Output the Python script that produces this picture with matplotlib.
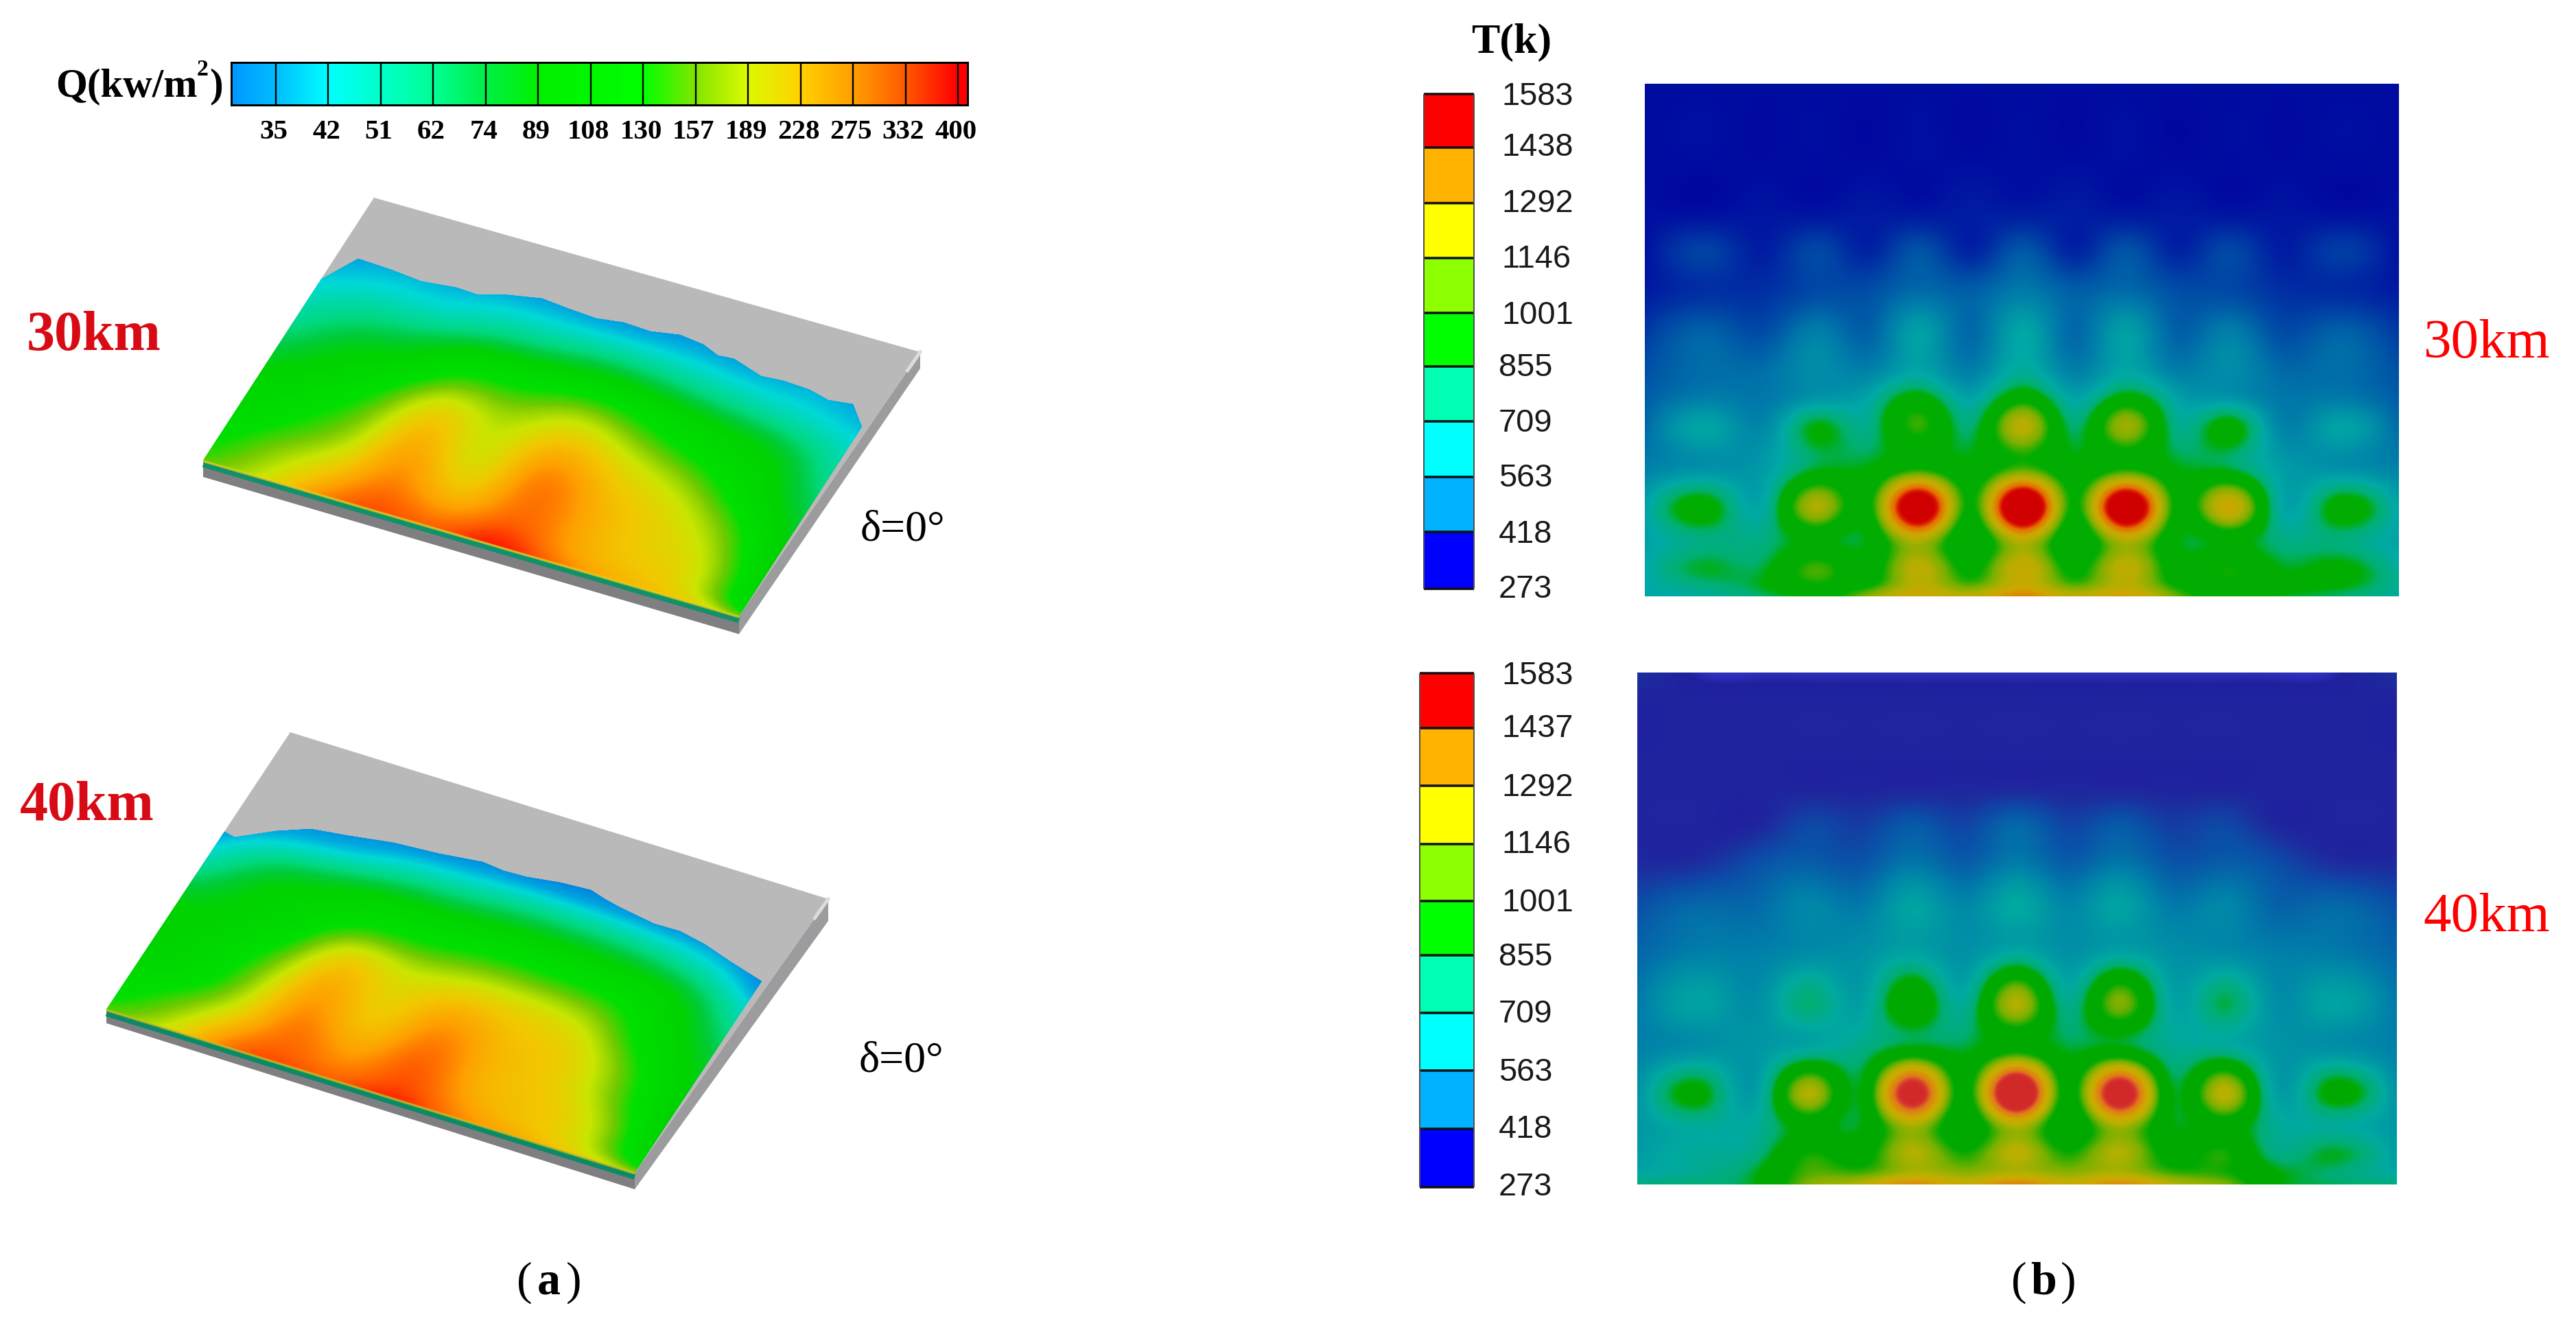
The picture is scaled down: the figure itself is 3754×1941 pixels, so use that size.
import numpy as np
import matplotlib
matplotlib.use("Agg")
import matplotlib.pyplot as plt
from matplotlib.colors import LinearSegmentedColormap, ListedColormap, to_rgb
from matplotlib.patches import Polygon, Rectangle

W, H = 3754, 1941
SERIF = "Liberation Serif"
SANS = "Liberation Sans"

# ---- data: heat flux legend
Q_TICKS = [35, 42, 51, 62, 74, 89, 108, 130, 157, 189, 228, 275, 332, 400]
Q_STOPS = [29, 35, 42, 51, 62, 74, 89, 108, 130, 157, 189, 228, 275, 332, 400]
Q_COLORS = ["#0096ff", "#00beff", "#00ffff", "#00ffc8", "#00ff96", "#00f046", "#00f000", "#00f800",
            "#00ff00", "#82e600", "#dcfa00", "#ffd200", "#ffa000", "#ff5a00", "#ff0000"]
# the shaded plate shows the same ramp a little dimmer at its cool end
Q_SHADE = [.88, .88, .85, .85, .85, .85, .88, .88, .88, .88, .92, .95, 1, 1, 1]

# ---- data: temperature legends
T_LABELS_30 = [1583, 1438, 1292, 1146, 1001, 855, 709, 563, 418, 273]
T_LABELS_40 = [1583, 1437, 1292, 1146, 1001, 855, 709, 563, 418, 273]
T_BAND_COLORS = ["#0000ff", "#00b2ff", "#00ffff", "#00ffb2", "#00ff00",
                 "#8cff00", "#ffff00", "#ffb200", "#ff0000"]

# ---- data: heat flux on the plates, rows along V_ROWS, columns along U_COLS
U_COLS = [0, .12, .22, .32, .43, .54, .66, .78, .9, 1]
V_ROWS = [0, .03, .1, .2, .3, .4, .5, .6, .7, .8, .9]
Q_30KM = [
    [150, 200, 290, 340, 330, 380, 310, 250, 220, 160],
    [140, 190, 270, 330, 310, 360, 290, 240, 200, 120],
    [125, 170, 230, 300, 260, 320, 270, 225, 185, 100],
    [105, 140, 190, 270, 215, 300, 260, 215, 165, 90],
    [95, 120, 165, 240, 195, 275, 235, 195, 135, 82],
    [80, 100, 135, 200, 180, 225, 195, 155, 105, 72],
    [62, 84, 100, 140, 145, 170, 145, 115, 90, 60],
    [50, 64, 72, 92, 100, 110, 100, 85, 70, 50],
    [40, 46, 47, 55, 60, 65, 60, 52, 46, 40],
    [33, 36, 36, 38, 38, 38, 38, 36, 36, 33],
    [29, 29, 29, 29, 29, 29, 29, 29, 29, 29],
]
Q_40KM = [
    [150, 200, 300, 345, 330, 370, 300, 260, 210, 170],
    [135, 185, 280, 330, 310, 350, 285, 240, 190, 120],
    [115, 155, 230, 310, 275, 330, 260, 230, 175, 95],
    [95, 120, 190, 280, 235, 300, 250, 220, 150, 88],
    [90, 108, 160, 250, 215, 260, 235, 210, 135, 85],
    [85, 95, 125, 195, 185, 200, 200, 175, 110, 78],
    [60, 88, 100, 125, 130, 140, 140, 130, 95, 62],
    [40, 64, 76, 88, 90, 95, 95, 90, 72, 44],
    [29, 36, 40, 48, 52, 56, 56, 52, 42, 30],
    [29, 29, 29, 29, 30, 30, 30, 29, 29, 29],
    [29, 29, 29, 29, 29, 29, 29, 29, 29, 29],
]
EDGE_U_30 = [0, .038, .1, .16, .221, .26, .3, .367, .42, .472, .52, .57, .62, .667, .70, .73, .789, .83, .88, .92, .962, .988, 1.0]
EDGE_V_30 = [.69, .79, .785, .775, .79, .785, .81, .833, .825, .82, .832, .83, .845, .837, .815, .82, .789, .795, .79, .775, .785, .74, .72]
EDGE_U_40 = [0, .022, .08, .133, .2, .277, .36, .4375, .48, .523, .58, .636, .67, .70, .771, .82, .872, .93, .987, 1.0]
EDGE_V_40 = [.64, .635, .69, .73, .745, .765, .775, .789, .782, .785, .80, .806, .79, .78, .764, .765, .749, .72, .696, .69]

# ---- data: temperature fields, read at the spot rows / columns
T_X_30 = [355, 443, 511, 580, 646, 712, 780, 848, 914, 980, 1048, 1115, 1182, 1250, 1337]
T_Y_30 = [212, 420, 560, 635, 730, 840, 960, 1010, 1080, 1190, 1290, 1375, 1440, 1490, 1513]
T_30KM = [
    [300, 300, 300, 300, 300, 300, 300, 300, 300, 300, 300, 300, 300, 300, 300],
    [300, 300, 300, 300, 300, 305, 305, 305, 305, 305, 300, 300, 300, 300, 300],
    [310, 330, 325, 340, 335, 350, 340, 360, 340, 350, 335, 340, 325, 330, 310],
    [310, 420, 340, 440, 350, 470, 350, 480, 350, 470, 350, 440, 340, 410, 310],
    [330, 380, 380, 440, 450, 520, 490, 560, 490, 520, 450, 440, 380, 370, 330],
    [400, 500, 450, 580, 500, 680, 520, 700, 520, 680, 500, 580, 450, 500, 400],
    [470, 540, 550, 620, 620, 730, 610, 770, 610, 730, 610, 620, 540, 540, 470],
    [490, 580, 560, 650, 700, 900, 690, 950, 690, 900, 690, 650, 560, 570, 490],
    [520, 690, 610, 860, 760, 1050, 790, 1230, 790, 1170, 760, 900, 600, 680, 520],
    [590, 640, 670, 840, 860, 1000, 890, 1060, 890, 1000, 860, 830, 680, 640, 590],
    [680, 880, 720, 1200, 960, 1780, 980, 1860, 980, 1810, 960, 1290, 720, 880, 680],
    [680, 770, 780, 880, 860, 1180, 860, 1200, 860, 1180, 860, 880, 780, 780, 680],
    [700, 840, 830, 1060, 920, 1230, 960, 1270, 960, 1240, 920, 1010, 850, 880, 720],
    [700, 780, 850, 980, 1000, 1230, 1090, 1280, 1090, 1230, 1000, 960, 880, 860, 740],
    [700, 730, 800, 900, 1150, 1300, 1260, 1400, 1260, 1340, 1100, 900, 840, 800, 720],
]
T_X_40 = [345, 435, 502, 570, 637, 705, 772, 840, 906, 972, 1041, 1110, 1175, 1240, 1335]
T_Y_40 = [62, 100, 250, 330, 410, 480, 600, 700, 830, 920, 1030, 1100, 1165, 1215, 1232]
T_40KM = [
    [340, 273, 273, 273, 273, 273, 273, 273, 273, 273, 273, 273, 273, 273, 340],
    [310, 290, 290, 290, 290, 290, 290, 290, 290, 290, 290, 290, 290, 290, 310],
    [297, 297, 297, 297, 297, 297, 297, 297, 297, 297, 297, 297, 297, 297, 297],
    [300, 300, 300, 305, 305, 310, 310, 320, 310, 310, 305, 305, 300, 300, 300],
    [300, 300, 305, 400, 370, 450, 390, 490, 390, 450, 370, 400, 310, 300, 300],
    [310, 320, 400, 440, 420, 510, 440, 530, 440, 510, 420, 440, 400, 320, 310],
    [420, 500, 500, 590, 550, 690, 590, 710, 590, 690, 550, 590, 480, 500, 420],
    [480, 560, 560, 600, 620, 680, 620, 700, 620, 680, 620, 600, 560, 550, 480],
    [540, 680, 620, 790, 680, 960, 740, 1190, 760, 1110, 700, 820, 620, 680, 540],
    [560, 620, 640, 700, 760, 860, 830, 940, 830, 860, 740, 730, 640, 620, 560],
    [620, 860, 680, 1200, 860, 1660, 940, 1810, 940, 1700, 860, 1220, 690, 860, 620],
    [640, 720, 730, 900, 850, 1160, 880, 1180, 880, 1160, 860, 930, 740, 720, 640],
    [660, 730, 780, 1020, 950, 1200, 1020, 1220, 1020, 1200, 950, 1030, 780, 840, 660],
    [720, 760, 860, 1080, 1100, 1230, 1170, 1240, 1170, 1230, 1100, 1040, 880, 800, 720],
    [780, 800, 860, 1130, 1230, 1420, 1270, 1450, 1270, 1420, 1230, 1130, 880, 820, 780],
]

# ---- field colour ramps (temperature -> displayed colour)
T_STOPS = [273, 420, 560, 709, 800, 855, 1001, 1100, 1200, 1292, 1438, 1530, 1583]
T_FIELD_COLORS_30 = ["#0000a0", "#0040a5", "#0078aa", "#00aaa5", "#00b070", "#00ad00", "#00ad00",
                     "#78b000", "#b4ae00", "#cda800", "#e66e00", "#d81400", "#d20000"]
T_STOPS_40 = [273, 284, 320, 420, 560, 709, 800, 855, 1001, 1100, 1200, 1292, 1438, 1530, 1583]
T_FIELD_COLORS_40 = ["#2e30bc", "#20209e", "#1e2a9e", "#0a50a8", "#0080aa", "#00aaa0", "#00ae70", "#00aa00",
                     "#00aa00", "#78b000", "#b8b000", "#d0a800", "#e07a18", "#d63030", "#d22828"]


def ramp(stops, colors):
    s = np.array(stops, float)
    pos = (s - s[0]) / (s[-1] - s[0])
    return LinearSegmentedColormap.from_list("r", list(zip(pos, colors)), N=1024)


def spline(xs, table, fx):
    """Natural cubic spline through the rows of `table` (n_x by k), evaluated at fx."""
    xs = np.asarray(xs, float)
    table = np.asarray(table, float)
    n = len(xs)
    h = np.diff(xs)
    A = np.zeros((n, n))
    b = np.zeros_like(table)
    A[0, 0] = A[-1, -1] = 1
    for i in range(1, n - 1):
        A[i, i - 1], A[i, i], A[i, i + 1] = h[i - 1], 2 * (h[i - 1] + h[i]), h[i]
        b[i] = 6 * ((table[i + 1] - table[i]) / h[i] - (table[i] - table[i - 1]) / h[i - 1])
    M = np.linalg.solve(A, b)
    j = np.clip(np.searchsorted(xs, fx) - 1, 0, n - 2)
    hj = h[j][:, None]
    a0 = ((xs[j + 1] - fx)[:, None]) / hj
    a1 = ((fx - xs[j])[:, None]) / hj
    return (a0 * table[j] + a1 * table[j + 1]
            + ((a0 ** 3 - a0) * M[j] + (a1 ** 3 - a1) * M[j + 1]) * hj ** 2 / 6)


def upsampled(values, xs, ys, nx, ny, sigma):
    """Fine image of a coarse table read at xs / ys, softened with a gaussian."""
    fx = np.linspace(xs[0], xs[-1], nx)
    fy = np.linspace(ys[0], ys[-1], ny)
    a = spline(ys, values, fy)            # ny by len(xs)
    a = spline(xs, a.T, fx).T             # ny by nx
    r = int(3 * sigma)
    k = np.exp(-0.5 * (np.arange(-r, r + 1) / sigma) ** 2)
    k /= k.sum()
    a = np.pad(a, r, mode="edge")
    a = np.apply_along_axis(lambda m: np.convolve(m, k, mode="same"), 0, a)
    a = np.apply_along_axis(lambda m: np.convolve(m, k, mode="same"), 1, a)
    return a[r:-r, r:-r]


fig = plt.figure(figsize=(W / 100, H / 100), dpi=100, facecolor="white")
ax = fig.add_axes([0, 0, 1, 1])
ax.set_xlim(0, W)
ax.set_ylim(H, 0)
ax.axis("off")
PX = 72 / 100  # points per pixel


def txt(x, y, s, size_px, family=SERIF, color="black", weight="normal", ha="center", va="center"):
    return ax.text(x, y, s, fontsize=size_px * PX, family=family, color=color,
                   fontweight=weight, ha=ha, va=va)


# ---- (a) heat flux legend
log_stops = np.log10(Q_STOPS)
q_cmap = ramp(log_stops, Q_COLORS)
q_plate_cmap = ramp(log_stops, [tuple(f * c for c in to_rgb(h)) for f, h in zip(Q_SHADE, Q_COLORS)])
BAR_X0, BAR_X1, BAR_Y0, BAR_Y1 = 337, 1410, 91, 153
TICK_X0, TICK_X1 = 402, 1396
tick_x = np.linspace(TICK_X0, TICK_X1, len(Q_TICKS))
strip = np.interp(np.linspace(BAR_X0, BAR_X1, 1073), np.r_[BAR_X0, tick_x], log_stops)
ax.imshow(strip[None, :], extent=(BAR_X0, BAR_X1, BAR_Y1, BAR_Y0), cmap=q_cmap,
          vmin=log_stops[0], vmax=log_stops[-1], aspect="auto", zorder=2)
ax.add_patch(Rectangle((BAR_X0, BAR_Y0), BAR_X1 - BAR_X0, BAR_Y1 - BAR_Y0, fill=False, ec="black", lw=3 * PX, zorder=3))
ax.vlines(tick_x, BAR_Y0, BAR_Y1, color="black", lw=2.4 * PX, zorder=3)
for x, q in zip(tick_x, Q_TICKS):
    txt(x - 3, 192, str(q), 41, weight="bold")
txt(81, 126, "Q(kw/m", 59, weight="bold", ha="left")
txt(295, 102, "2", 34, weight="bold")
txt(315, 126, ")", 59, weight="bold")


# ---- (a) plates
def plate(D, C, A, B, thick_l, thick_r, wedge, table, edge_u, edge_v, strip_col, rim_col):
    D, C, A, B = map(np.array, (D, C, A, B))
    Dp, Cp, Bp = D + (0, thick_l), C + (0, thick_r), B + (0, wedge)
    ax.add_patch(Polygon([D, C, Cp, Dp], fc="#7f7f82", ec="none", zorder=2))
    ax.add_patch(Polygon([B, Bp, Cp, C], fc="#9c9c9f", ec="none", zorder=2))
    ax.add_patch(Polygon([A, B, C, D], fc="#b9b9b9", ec="none", zorder=3))
    ax.plot([C[0] + .93 * (B - C)[0], B[0]], [C[1] + .93 * (B - C)[1], B[1]], color="#dcdcdc", lw=5 * PX, zorder=3)
    u = np.linspace(0, 1, 500)
    v = np.linspace(0, V_ROWS[-1], 500)
    Q = upsampled(np.log10(table), U_COLS, V_ROWS, 500, 500, 3)
    UU, VV = np.meshgrid(u, v)
    X = D[0] + UU * (C - D)[0] + VV * (A - D)[0]
    Y = D[1] + UU * (C - D)[1] + VV * (A - D)[1]
    mesh = ax.pcolormesh(X, Y, np.clip(Q, log_stops[0], log_stops[-1]), cmap=q_plate_cmap,
                         vmin=log_stops[0], vmax=log_stops[-1], shading="gouraud", zorder=4)
    eu, ev = np.array(edge_u), np.array(edge_v)
    outline = [D] + [D + a * (C - D) + b * (A - D) for a, b in zip(eu, ev)] + [C]
    clip = Polygon(outline, transform=ax.transData, fc="none", ec="none")
    ax.add_patch(clip)
    mesh.set_clip_path(clip)
    ax.plot([D[0], C[0]], [D[1] + 6, C[1] + 6], color=strip_col, lw=8 * PX, zorder=5, solid_capstyle="butt")
    ax.plot([D[0], C[0]], [D[1] + 1, C[1] + 1], color=rim_col, lw=3.5 * PX, alpha=.6, zorder=5, solid_capstyle="butt")


plate((296, 671), (1077, 898), (545, 288), (1341, 513), 24, 26, 24, Q_30KM, EDGE_U_30, EDGE_V_30, "#12906a", "#f5e600")
plate((155, 1471), (925, 1709), (423, 1067), (1207, 1310), 20, 24, 32, Q_40KM, EDGE_U_40, EDGE_V_40, "#0c8a68", "#d8d000")

txt(137, 490, "30km", 82, color="#d80a14", weight="bold")
txt(127, 1175, "40km", 82, color="#d80a14", weight="bold")
txt(1315, 772, "δ=0°", 64)
txt(1313, 1546, "δ=0°", 64)


# ---- (b) temperature fields
def field(box, xs, ys, table, cmap, vmin, vmax):
    x0, x1, y0, y1 = box
    nx, ny = int(x1 - x0), int(y1 - y0)
    a = upsampled(table, xs, ys, nx, ny, 5)
    ax.imshow(np.clip(a, vmin, vmax), extent=(x0, x1, y1, y0), cmap=cmap, vmin=vmin, vmax=vmax, aspect="auto",
              interpolation="bilinear", zorder=2)


field((2397, 3496, 122, 869), T_X_30, T_Y_30, T_30KM, ramp(T_STOPS, T_FIELD_COLORS_30), T_STOPS[0], T_STOPS[-1])
field((2386, 3493, 980, 1726), T_X_40, T_Y_40, T_40KM, ramp(T_STOPS_40, T_FIELD_COLORS_40), T_STOPS_40[0], T_STOPS_40[-1])
ax.set_xlim(0, W)
ax.set_ylim(H, 0)


# ---- (b) band legends
def bands(x0, x1, edges_y, labels, label_y):
    ey = np.array(edges_y, float)
    cm = ListedColormap(T_BAND_COLORS)
    vals = np.arange(len(T_BAND_COLORS))[::-1][:, None]
    ax.pcolormesh([x0, x1], ey, vals, cmap=cm, vmin=-.5, vmax=8.5, zorder=2)
    ax.hlines(ey, x0, x1, color="#101010", lw=3.5 * PX, zorder=3)
    ax.vlines([x0, x1], ey[0], ey[-1], color="#505050", lw=2 * PX, zorder=3)
    for y, lab in zip(label_y, labels):
        x = 2188 if lab >= 1000 else 2184
        txt(x, y + 4, str(lab), 47, family=SANS, color="#1a1a1a", ha="left")


bands(2075, 2148, [137, 215, 296, 376, 456, 534, 614, 695, 775, 858], T_LABELS_30,
      [137, 211, 293, 374, 456, 532, 613, 693, 775, 855])
bands(2069, 2148, [981, 1061, 1145, 1230, 1313, 1392, 1476, 1560, 1645, 1730], T_LABELS_40,
      [981, 1058, 1144, 1227, 1312, 1391, 1474, 1559, 1642, 1726])

txt(2203, 62, "T(k)", 62, weight="bold")
txt(3624, 502, "30km", 81, color="#ff0000")
txt(3624, 1338, "40km", 81, color="#ff0000")

# ---- panel labels
for xc, letter in ((800, "a"), (2978, "b")):
    txt(xc - 36, 1869, "(", 68)
    txt(xc, 1869, letter, 68, weight="bold")
    txt(xc + 36, 1869, ")", 68)

fig.savefig("out.png", dpi=100, facecolor="white")
